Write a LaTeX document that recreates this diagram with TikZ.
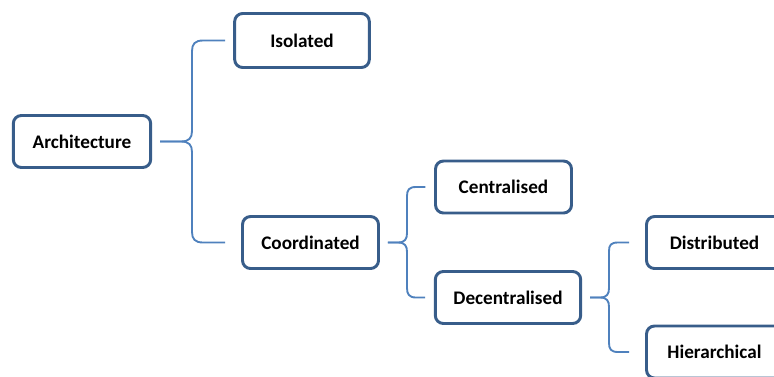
\documentclass[tikz,border=0pt]{standalone}
\usepackage{fontspec}
\setmainfont{Carlito}
\usetikzlibrary{positioning}
\definecolor{boxblue}{RGB}{56,93,138}
\definecolor{linkblue}{RGB}{79,129,189}
\begin{document}
\begin{tikzpicture}[x=0.75pt,y=-0.75pt,
	box/.style={draw=boxblue, line width=2.2pt, rounded corners=6pt, fill=white, font=\bfseries\fontsize{14.4}{17}\selectfont, minimum height=39pt, minimum width=102pt, inner sep=0pt},
	link/.style={draw=linkblue, line width=1.4pt}]
	\useasboundingbox (0,0) rectangle (774,376);
	\node[box, minimum width=103pt] (arch) at (82,141.5) {Architecture};
	\node[box, minimum width=101pt, minimum height=40.5pt] (iso) at (302,40.5) {Isolated};
	\node[box] (coord) at (310.5,242.5) {Coordinated};
	\node[box] (cent) at (503.5,187) {Centralised};
	\node[box, minimum width=109pt] (decent) at (508,297.5) {Decentralised};
	\node[box] (distr) at (714.5,242.5) {Distributed};
	\node[box] (hier) at (714.5,352) {Hierarchical};
	
	\draw[link] ([xshift=6pt]arch.east) -- (181,141.5) .. controls (189,141.5) and (192,138) .. (192,131) -- (192,51) .. controls (192,44) and (195,40.5) .. (203,40.5) -- ([xshift=-6pt]iso.west);
	\draw[link] ([xshift=6pt]arch.east) -- (181,141.5) .. controls (189,141.5) and (192,145) .. (192,152) -- (192,232) .. controls (192,239) and (195,242.5) .. (203,242.5) -- ([xshift=-12pt]coord.west);
	
	\draw[link] ([xshift=6pt]coord.east) -- (398,242.5) .. controls (405,242.5) and (407,239) .. (407,233) -- (407,196) .. controls (407,190) and (409,187) .. (416,187) -- ([xshift=-6.5pt]cent.west);
	\draw[link] ([xshift=6pt]coord.east) -- (398,242.5) .. controls (405,242.5) and (407,246) .. (407,252) -- (407,288) .. controls (407,294) and (409,297.5) .. (416,297.5) -- ([xshift=-6.5pt]decent.west);
	
	\draw[link] ([xshift=6pt]decent.east) -- (600,297.5) .. controls (607,297.5) and (609,294) .. (609,288) -- (609,251) .. controls (609,245) and (611,242.5) .. (618,242.5) -- ([xshift=-12pt]distr.west);
	\draw[link] ([xshift=6pt]decent.east) -- (600,297.5) .. controls (607,297.5) and (609,301) .. (609,307) -- (609,343) .. controls (609,349) and (611,352) .. (618,352) -- ([xshift=-12pt]hier.west);
\end{tikzpicture}
\end{document}
